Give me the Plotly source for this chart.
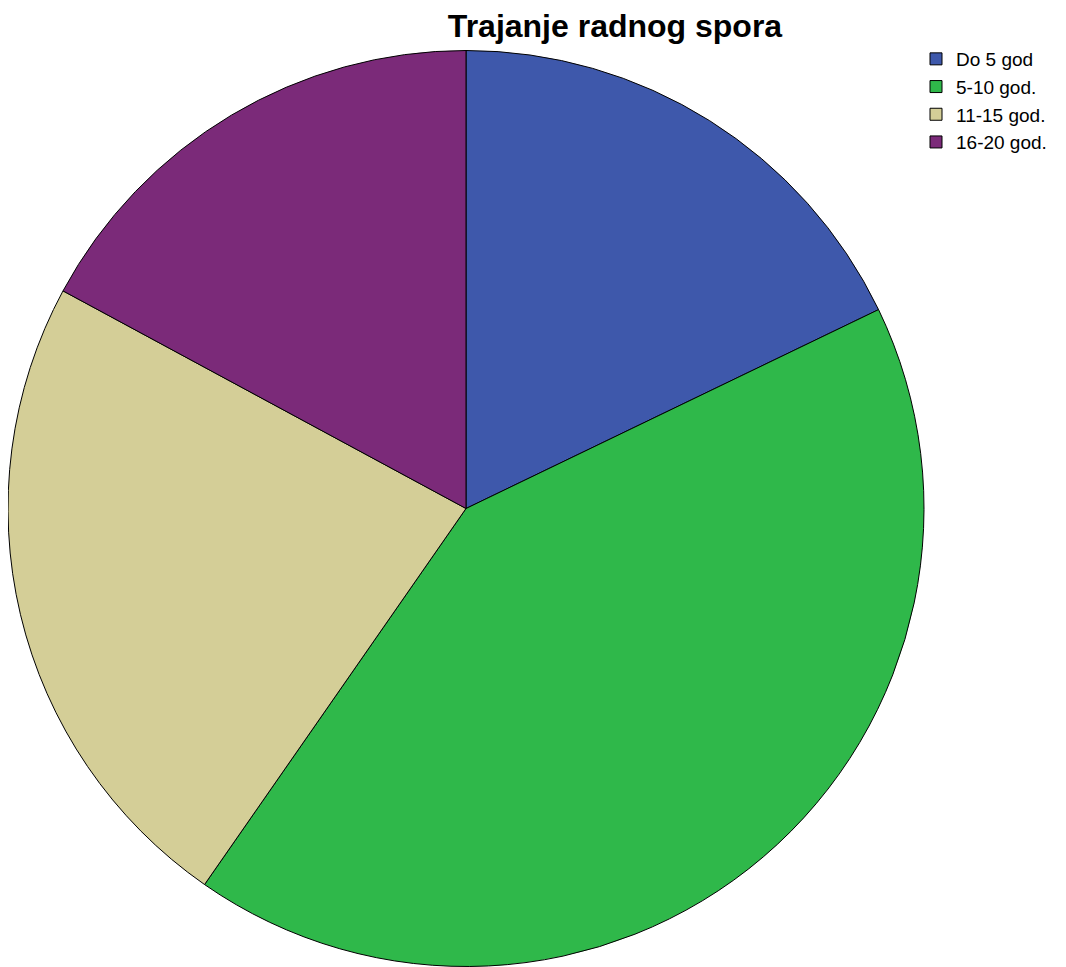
import plotly.graph_objects as go

categories = ["Do 5 god", "5-10 god.", "11-15 god.", "16-20 god."]
values = [17.85, 41.82, 23.21, 17.12]
colors = ["#3E58AB", "#2FB84A", "#D4CE97", "#7B2A79"]

W, H = 1066, 967
cx, cy, r = 458.0, 500.5, 458

fig = go.Figure(go.Pie(
    labels=categories,
    values=values,
    sort=False,
    direction="clockwise",
    rotation=0,
    textinfo="none",
    marker=dict(colors=colors, line=dict(color="black", width=1)),
    domain=dict(x=[(cx - r) / W, (cx + r) / W], y=[(H - cy - r) / H, (H - cy + r) / H]),
))

fig.update_layout(
    width=W, height=H,
    margin=dict(l=0, r=0, t=0, b=0),
    paper_bgcolor="white",
    plot_bgcolor="white",
    font=dict(family="Liberation Sans, Arial, sans-serif", color="black"),
    title=dict(
        text="<b>Trajanje radnog spora</b>",
        font=dict(size=32, family="Liberation Sans, Arial, sans-serif", color="black"),
        x=607 / W, xanchor="center", xref="paper",
        y=1 - 18 / H, yanchor="middle", yref="container",
    ),
    legend=dict(
        x=(948 - 40) / W, xanchor="left",
        y=1 - 32 / H, yanchor="top",
        font=dict(size=19, color="black"),
        bgcolor="rgba(0,0,0,0)",
        traceorder="normal",
    ),
)

fig.write_html("out.html")
